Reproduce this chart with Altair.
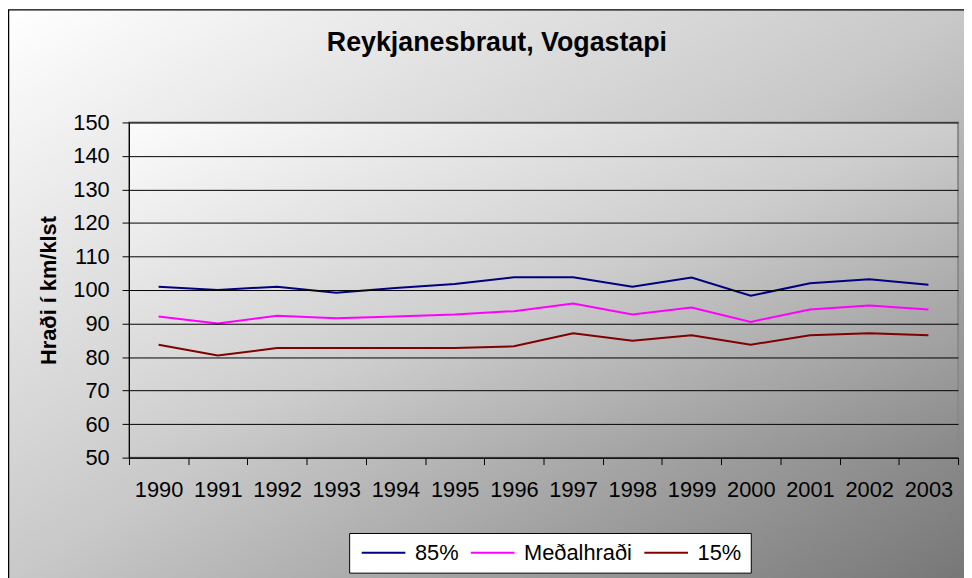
import altair as alt
import pandas as pd

# ---- data ----
years = ["1990", "1991", "1992", "1993", "1994", "1995", "1996",
         "1997", "1998", "1999", "2000", "2001", "2002", "2003"]
p85 = [101.0, 100.0, 101.0, 99.2, 100.6, 101.8, 103.8,
       103.8, 101.0, 103.7, 98.3, 102.0, 103.2, 101.6]
medal = [92.1, 90.0, 92.3, 91.6, 92.1, 92.7, 93.7,
         96.0, 92.7, 94.8, 90.5, 94.2, 95.4, 94.2]
p15 = [83.7, 80.5, 82.7, 82.7, 82.7, 82.7, 83.2,
       87.1, 84.9, 86.5, 83.7, 86.5, 87.1, 86.5]
series_names = ["85%", "Meðalhraði", "15%"]
series_colors = ["#000080", "#ff00ff", "#800000"]
y_ticks = [50, 60, 70, 80, 90, 100, 110, 120, 130, 140, 150]

rows = []
for name, vals in zip(series_names, [p85, medal, p15]):
    for yr, v in zip(years, vals):
        rows.append({"Ár": yr, "Hraði": v, "Röð": name})
df = pd.DataFrame(rows)

# ---- layout ----
W, H = 836, 338
PL, PT = 122, 113
SVG_W, SVG_H = 964, 570
FONT = "Liberation Sans"

one = pd.DataFrame({"k": [0]})

outer_bg = alt.Chart(one).mark_rect(
    fill=alt.LinearGradient(
        gradient="linear", x1=0, y1=0, x2=1, y2=1,
        stops=[alt.GradientStop(offset=0, color="#ffffff"),
               alt.GradientStop(offset=0.5, color="#c8c8c8"),
               alt.GradientStop(offset=1, color="#767676")]),
    stroke="black", strokeWidth=1.5,
).encode(
    x=alt.value(-PL + 0.5), x2=alt.value(SVG_W - PL + 6),
    y=alt.value(-PT - 0.5), y2=alt.value(SVG_H - PT + 6),
)

plot_bg = alt.Chart(one).mark_rect(
    fill=alt.LinearGradient(
        gradient="linear", x1=0, y1=0, x2=1, y2=1,
        stops=[alt.GradientStop(offset=0, color="#fcfcfc"),
               alt.GradientStop(offset=0.5, color="#cdcdcd"),
               alt.GradientStop(offset=1, color="#888888")]),
    stroke="#8a8a8a", strokeWidth=2,
).encode(
    x=alt.value(0), x2=alt.value(W), y=alt.value(0), y2=alt.value(H),
)

# legend symbol: a line from -1 to 5 in unit space, scaled by sqrt(size)/2
SYM_S = 44 / 3.0

lines = alt.Chart(df).mark_line(strokeWidth=2).encode(
    x=alt.X("Ár:N", sort=years, bandPosition=0.5,
            scale=alt.Scale(type="band", paddingInner=0, paddingOuter=0),
            axis=alt.Axis(title=None, labelAngle=0, tickBand="extent",
                          tickSize=7, tickColor="black", domainColor="black",
                          labelFontSize=22, labelColor="black", labelFont=FONT,
                          labelPadding=15, grid=False, zindex=1)),
    y=alt.Y("Hraði:Q",
            scale=alt.Scale(domain=[50, 150], nice=False, zero=False),
            axis=alt.Axis(title="Hraði í km/klst", values=y_ticks,
                          grid=True, gridColor="black", gridWidth=1,
                          domainColor="black", tickColor="black", tickSize=7,
                          labelFontSize=22, labelColor="black", labelFont=FONT,
                          labelPadding=13,
                          titleFontSize=22, titleFont=FONT, titleFontWeight="bold",
                          titleColor="black", titlePadding=12, zindex=1)),
    color=alt.Color("Röð:N",
                    scale=alt.Scale(domain=series_names, range=series_colors),
                    legend=alt.Legend(title=None, orient="none", direction="horizontal",
                                      legendX=222, legendY=414,
                                      symbolType="M-1,0H5", symbolSize=SYM_S ** 2,
                                      symbolStrokeWidth=2, labelFontSize=22,
                                      labelFont=FONT, labelColor="black",
                                      labelOffset=50 - SYM_S, columnPadding=7,
                                      padding=9, strokeColor="black",
                                      fillColor="white")),
)

chart = alt.layer(outer_bg, plot_bg, lines).properties(
    width=W, height=H,
    autosize="none",
    padding={"left": PL, "top": PT, "right": SVG_W - PL - W, "bottom": SVG_H - PT - H},
    title=alt.TitleParams("Reykjanesbraut, Vogastapi", fontSize=27, fontWeight="bold",
                          font=FONT, color="black", anchor="middle", frame="group",
                          dx=-47, offset=-48),
).configure_view(stroke=None).configure(font=FONT)

chart.save("out.html", embed_options={"renderer": "svg", "actions": False})
